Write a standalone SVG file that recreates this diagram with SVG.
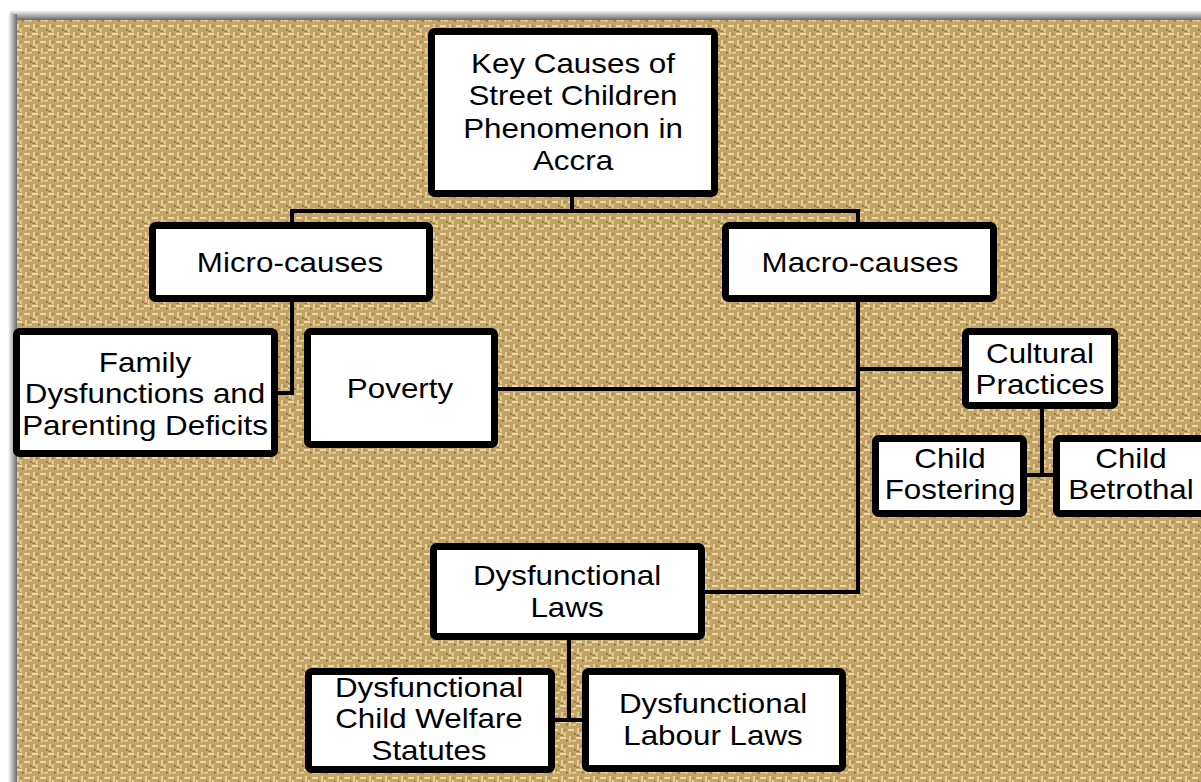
<svg xmlns="http://www.w3.org/2000/svg" width="1201" height="782" viewBox="0 0 1201 782">
<defs>
<pattern id="burlap" width="16" height="16" patternUnits="userSpaceOnUse">
<rect width="16" height="16" fill="#c5a567"/>
<rect x="0" y="1" width="6" height="2" fill="#ecdaa6"/>
<rect x="9" y="0" width="2" height="6" fill="#e3cd96"/>
<rect x="8" y="9" width="6" height="2" fill="#ecdaa6"/>
<rect x="1" y="8" width="2" height="6" fill="#e3cd96"/>
<rect x="12" y="4" width="4" height="1.5" fill="#e8d5a0"/>
<rect x="4" y="12" width="1.5" height="4" fill="#e8d5a0"/>
<rect x="6" y="4" width="1.5" height="1.5" fill="#7a5b2e"/>
<rect x="14" y="13" width="1.5" height="1.5" fill="#7a5b2e"/>
<rect x="4.5" y="9" width="1" height="2" fill="#94733f"/>
<rect x="12" y="1" width="1" height="2" fill="#94733f"/>
<rect x="0" y="15" width="3" height="1" fill="#a07e48"/>
</pattern>
<linearGradient id="topShadow" x1="0" y1="0" x2="0" y2="1">
<stop offset="0" stop-color="#ffffff"/>
<stop offset="1" stop-color="#6a6a6a"/>
</linearGradient>
<linearGradient id="leftShadow" x1="0" y1="0" x2="1" y2="0">
<stop offset="0" stop-color="#ffffff"/>
<stop offset="1" stop-color="#6a6a6a"/>
</linearGradient>
</defs>
<style>
.box{fill:#ffffff;stroke:#000000;stroke-width:7;}
.lbl{font-family:"Liberation Sans",Arial,sans-serif;font-size:28px;fill:#000000;text-anchor:middle;}
.conn{fill:none;stroke:#000000;stroke-width:4;}
</style>
<rect width="1201" height="782" fill="#ffffff"/>
<rect x="10" y="10" width="1191" height="10" fill="url(#topShadow)"/>
<rect x="8" y="14" width="9" height="768" fill="url(#leftShadow)"/>
<rect x="17" y="20" width="1184" height="762" fill="url(#burlap)"/>

<g id="connectors">
<polyline class="conn" points="572,197 572,211"/>
<polyline class="conn" points="292,224 292,211 858,211 858,224"/>
<polyline class="conn" points="292,300 292,393 276,393"/>
<polyline class="conn" points="858,300 858,592 703,592"/>
<polyline class="conn" points="496,389 858,389"/>
<polyline class="conn" points="858,369 964,369"/>
<polyline class="conn" points="1042,407 1042,475"/>
<polyline class="conn" points="1025,475 1055,475"/>
<polyline class="conn" points="569,638 569,720"/>
<polyline class="conn" points="553,720 584,720"/>
</g>

<g id="key">
<rect class="box" x="431.5" y="31.5" width="283" height="162" rx="3"/>
<text class="lbl" transform="translate(573 0) scale(1.12 1)"><tspan x="0" y="73">Key Causes of</tspan><tspan x="0" y="105">Street Children</tspan><tspan x="0" y="138">Phenomenon in</tspan><tspan x="0" y="170">Accra</tspan></text>
</g>
<g id="micro">
<rect class="box" x="152.5" y="225.5" width="277" height="73" rx="3"/>
<text class="lbl" transform="translate(290 0) scale(1.12 1)"><tspan x="0" y="272">Micro-causes</tspan></text>
</g>
<g id="macro">
<rect class="box" x="725.5" y="225.5" width="268" height="73" rx="3"/>
<text class="lbl" transform="translate(860 0) scale(1.12 1)"><tspan x="0" y="272">Macro-causes</tspan></text>
</g>
<g id="family">
<rect class="box" x="16.5" y="331.5" width="258" height="122" rx="3"/>
<text class="lbl" transform="translate(145 0) scale(1.12 1)"><tspan x="0" y="372">Family</tspan><tspan x="0" y="403">Dysfunctions and</tspan><tspan x="0" y="435">Parenting Deficits</tspan></text>
</g>
<g id="poverty">
<rect class="box" x="307.5" y="331.5" width="187" height="113" rx="3"/>
<text class="lbl" transform="translate(400 0) scale(1.12 1)"><tspan x="0" y="398">Poverty</tspan></text>
</g>
<g id="cultural">
<rect class="box" x="965.5" y="331.5" width="149" height="74" rx="3"/>
<text class="lbl" transform="translate(1040 0) scale(1.12 1)"><tspan x="0" y="363">Cultural</tspan><tspan x="0" y="394">Practices</tspan></text>
</g>
<g id="fostering">
<rect class="box" x="875.5" y="438.5" width="148" height="75" rx="3"/>
<text class="lbl" transform="translate(950 0) scale(1.12 1)"><tspan x="0" y="468">Child</tspan><tspan x="0" y="499">Fostering</tspan></text>
</g>
<g id="betrothal">
<rect class="box" x="1056.5" y="438.5" width="160" height="75" rx="3"/>
<text class="lbl" transform="translate(1131 0) scale(1.12 1)"><tspan x="0" y="468">Child</tspan><tspan x="0" y="499">Betrothal</tspan></text>
</g>
<g id="laws">
<rect class="box" x="433.5" y="546.5" width="268" height="90" rx="3"/>
<text class="lbl" transform="translate(567 0) scale(1.12 1)"><tspan x="0" y="585">Dysfunctional</tspan><tspan x="0" y="617">Laws</tspan></text>
</g>
<g id="welfare">
<rect class="box" x="308.5" y="671.5" width="243" height="98" rx="3"/>
<text class="lbl" transform="translate(429 0) scale(1.12 1)"><tspan x="0" y="697">Dysfunctional</tspan><tspan x="0" y="728">Child Welfare</tspan><tspan x="0" y="760">Statutes</tspan></text>
</g>
<g id="labour">
<rect class="box" x="585.5" y="671.5" width="257" height="97" rx="3"/>
<text class="lbl" transform="translate(713 0) scale(1.12 1)"><tspan x="0" y="713">Dysfunctional</tspan><tspan x="0" y="745">Labour Laws</tspan></text>
</g>
</svg>
